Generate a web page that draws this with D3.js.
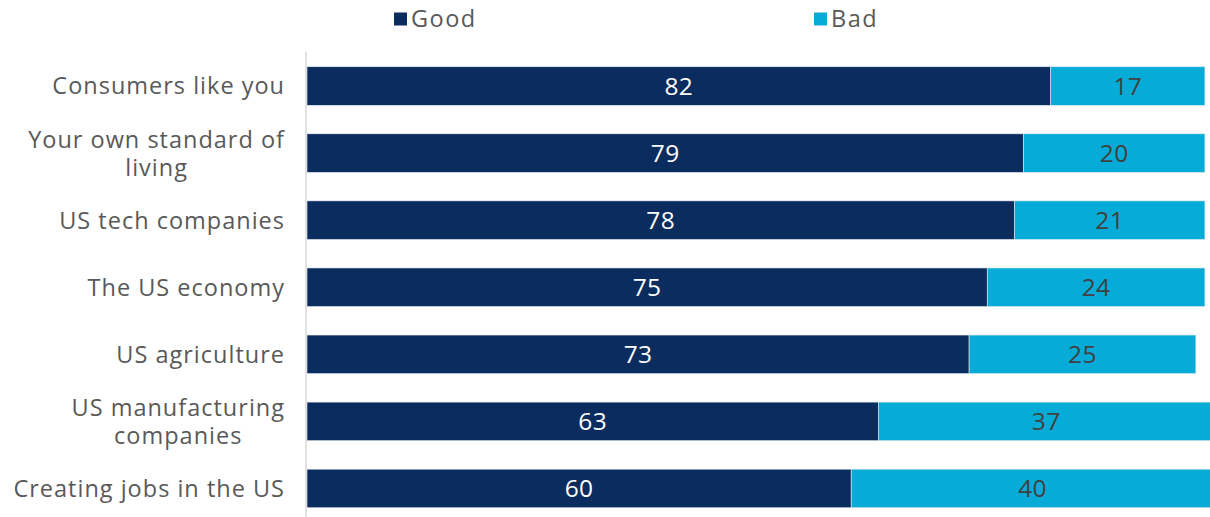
<!DOCTYPE html>
<html>
<head>
<meta charset="utf-8">
<script src="https://cdn.jsdelivr.net/npm/d3@7"></script>
<style>
  body { margin: 0; background: #fff; }
  svg { display: block; font-family: "Open Sans", "Noto Sans", sans-serif; }
</style>
</head>
<body>
<svg id="chart"></svg>
<script>
// data
const categories = [
  "Consumers like you",
  "Your own standard of|living",
  "US tech companies",
  "The US economy",
  "US agriculture",
  "US manufacturing|companies",
  "Creating jobs in the US"
];
const goodValues = [82, 79, 78, 75, 73, 63, 60];
const badValues = [17, 20, 21, 24, 25, 37, 40];
const seriesNames = ["Good", "Bad"];

const width = 1210, height = 517;
const colors = {Good: "#0a2c5e", Bad: "#06acd7"};

const svg = d3.select("#chart")
  .attr("width", width)
  .attr("height", height);

// scales
const x = d3.scaleLinear()
  .domain([0, 100])
  .range([307, 1214]);

const y = d3.scaleBand()
  .domain(categories)
  .range([52.5, 522])
  .paddingInner(0.425)
  .paddingOuter(0.2125);

const rows = categories.map((c, i) => ({
  cat: c, Good: goodValues[i], Bad: badValues[i]
}));
const stacked = d3.stack().keys(seriesNames)(rows);

// bars
const layers = svg.append("g")
  .selectAll("g")
  .data(stacked)
  .join("g")
    .attr("fill", d => colors[d.key]);

layers.selectAll("rect")
  .data(d => d)
  .join("rect")
    .attr("x", d => x(d[0]))
    .attr("y", d => y(d.data.cat))
    .attr("width", d => x(d[1]) - x(d[0]))
    .attr("height", y.bandwidth())
    .attr("stroke", "#e6e9ee")
    .attr("stroke-width", 0.6);

// value labels
layers.each(function(layer) {
  d3.select(this).selectAll("text")
    .data(layer)
    .join("text")
      .attr("x", d => (x(d[0]) + x(d[1])) / 2)
      .attr("y", d => y(d.data.cat) + y.bandwidth() / 2)
      .attr("dy", "0.36em")
      .attr("text-anchor", "middle")
      .attr("font-size", 24.5)
      .attr("letter-spacing", "0.4px")
      .attr("fill", layer.key === "Good" ? "#ffffff" : "#404040")
      .text(d => d.data[layer.key]);
});

// y axis line
svg.append("line")
  .attr("x1", 306).attr("x2", 306)
  .attr("y1", 52).attr("y2", height)
  .attr("stroke", "#d9d9d9")
  .attr("stroke-width", 1.5);

// category labels, wrapped ones are centred over their block
const labelRight = 285;
const lineGap = 28;
categories.forEach(c => {
  const lines = c.split("|");
  const cy = y(c) + y.bandwidth() / 2;
  const t = svg.append("text")
    .attr("font-size", 23.5)
    .attr("letter-spacing", "1px")
    .attr("fill", "#595959");
  lines.forEach((ln, j) => {
    t.append("tspan")
      .attr("y", cy + (j - (lines.length - 1) / 2) * lineGap)
      .attr("dy", "0.36em")
      .text(ln);
  });
  if (lines.length === 1) {
    t.attr("text-anchor", "end");
    t.selectAll("tspan").attr("x", labelRight);
  } else {
    let maxW = 0;
    t.selectAll("tspan").each(function() {
      maxW = Math.max(maxW, this.getComputedTextLength());
    });
    t.attr("text-anchor", "middle");
    t.selectAll("tspan").attr("x", labelRight - maxW / 2);
  }
});

// legend
const legendX = [398, 818];
const legend = svg.append("g")
  .selectAll("g")
  .data(seriesNames)
  .join("g")
    .attr("transform", (d, i) => `translate(${legendX[i]},19)`);

legend.append("rect")
  .attr("x", -4).attr("y", -6.5)
  .attr("width", 13).attr("height", 13)
  .attr("fill", d => colors[d]);

legend.append("text")
  .attr("x", 13)
  .attr("dy", "0.36em")
  .attr("font-size", 23.5)
  .attr("letter-spacing", "1.5px")
  .attr("fill", "#595959")
  .text(d => d);
</script>
</body>
</html>
